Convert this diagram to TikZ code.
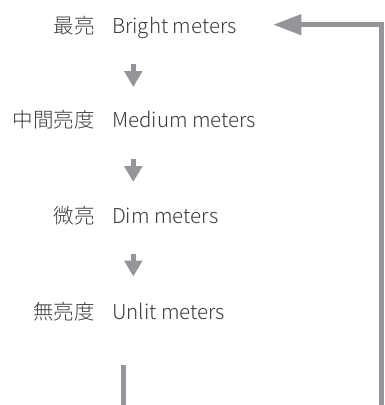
\documentclass[tikz,border=0pt]{standalone}
\usepackage{fontspec}
\setmainfont{Noto Sans CJK JP Light}
\usetikzlibrary{arrows.meta}
\definecolor{txt}{HTML}{3A3A3A}
\definecolor{arr}{HTML}{939598}
\tikzset{
  cjk/.style={anchor=base east,inner sep=0pt,text=txt,font=\fontsize{20.5}{24}\selectfont},
  eng/.style={anchor=base west,inner sep=0pt,text=txt,font=\fontsize{20.5}{25}\selectfont},
  small/.style={draw=arr,line width=5pt,-{Triangle[width=17.5pt,length=16pt]}},
  big/.style={draw=arr,line width=4.5pt,-{Triangle[width=20pt,length=28pt]}},
}
\begin{document}
\begin{tikzpicture}[x=1pt,y=1pt]
\useasboundingbox (0,0) rectangle (385,-405);
\node[cjk] (c1) at (95,-33) {最亮};
\node[eng] (e1) at (112,-33) {Bright meters};
\node[cjk] (c2) at (95,-127) {中間亮度};
\node[eng] (e2) at (112,-127) {Medium meters};
\node[cjk] (c3) at (95,-223) {微亮};
\node[eng] (e3) at (112,-223) {Dim meters};
\node[cjk] (c4) at (95,-319) {無亮度};
\node[eng] (e4) at (112,-319) {Unlit meters};
\coordinate (s1) at (133.3,-64); \coordinate (t1) at (133.3,-87);
\coordinate (s2) at (133.3,-159); \coordinate (t2) at (133.3,-182);
\coordinate (s3) at (133.3,-253.5); \coordinate (t3) at (133.3,-276.5);
\draw[small] (s1) -- (t1);
\draw[small] (s2) -- (t2);
\draw[small] (s3) -- (t3);
\coordinate (lb) at (381.7,-405);
\coordinate (lt) at (381.7,-24.7);
\coordinate (tip) at (273.3,-24.7);
\draw[big] (lb) -- (lt) -- (tip);
\coordinate (bb) at (123.5,-365);
\coordinate (be) at (123.5,-405);
\draw[draw=arr,line width=5pt] (bb) -- (be);
\end{tikzpicture}
\end{document}
